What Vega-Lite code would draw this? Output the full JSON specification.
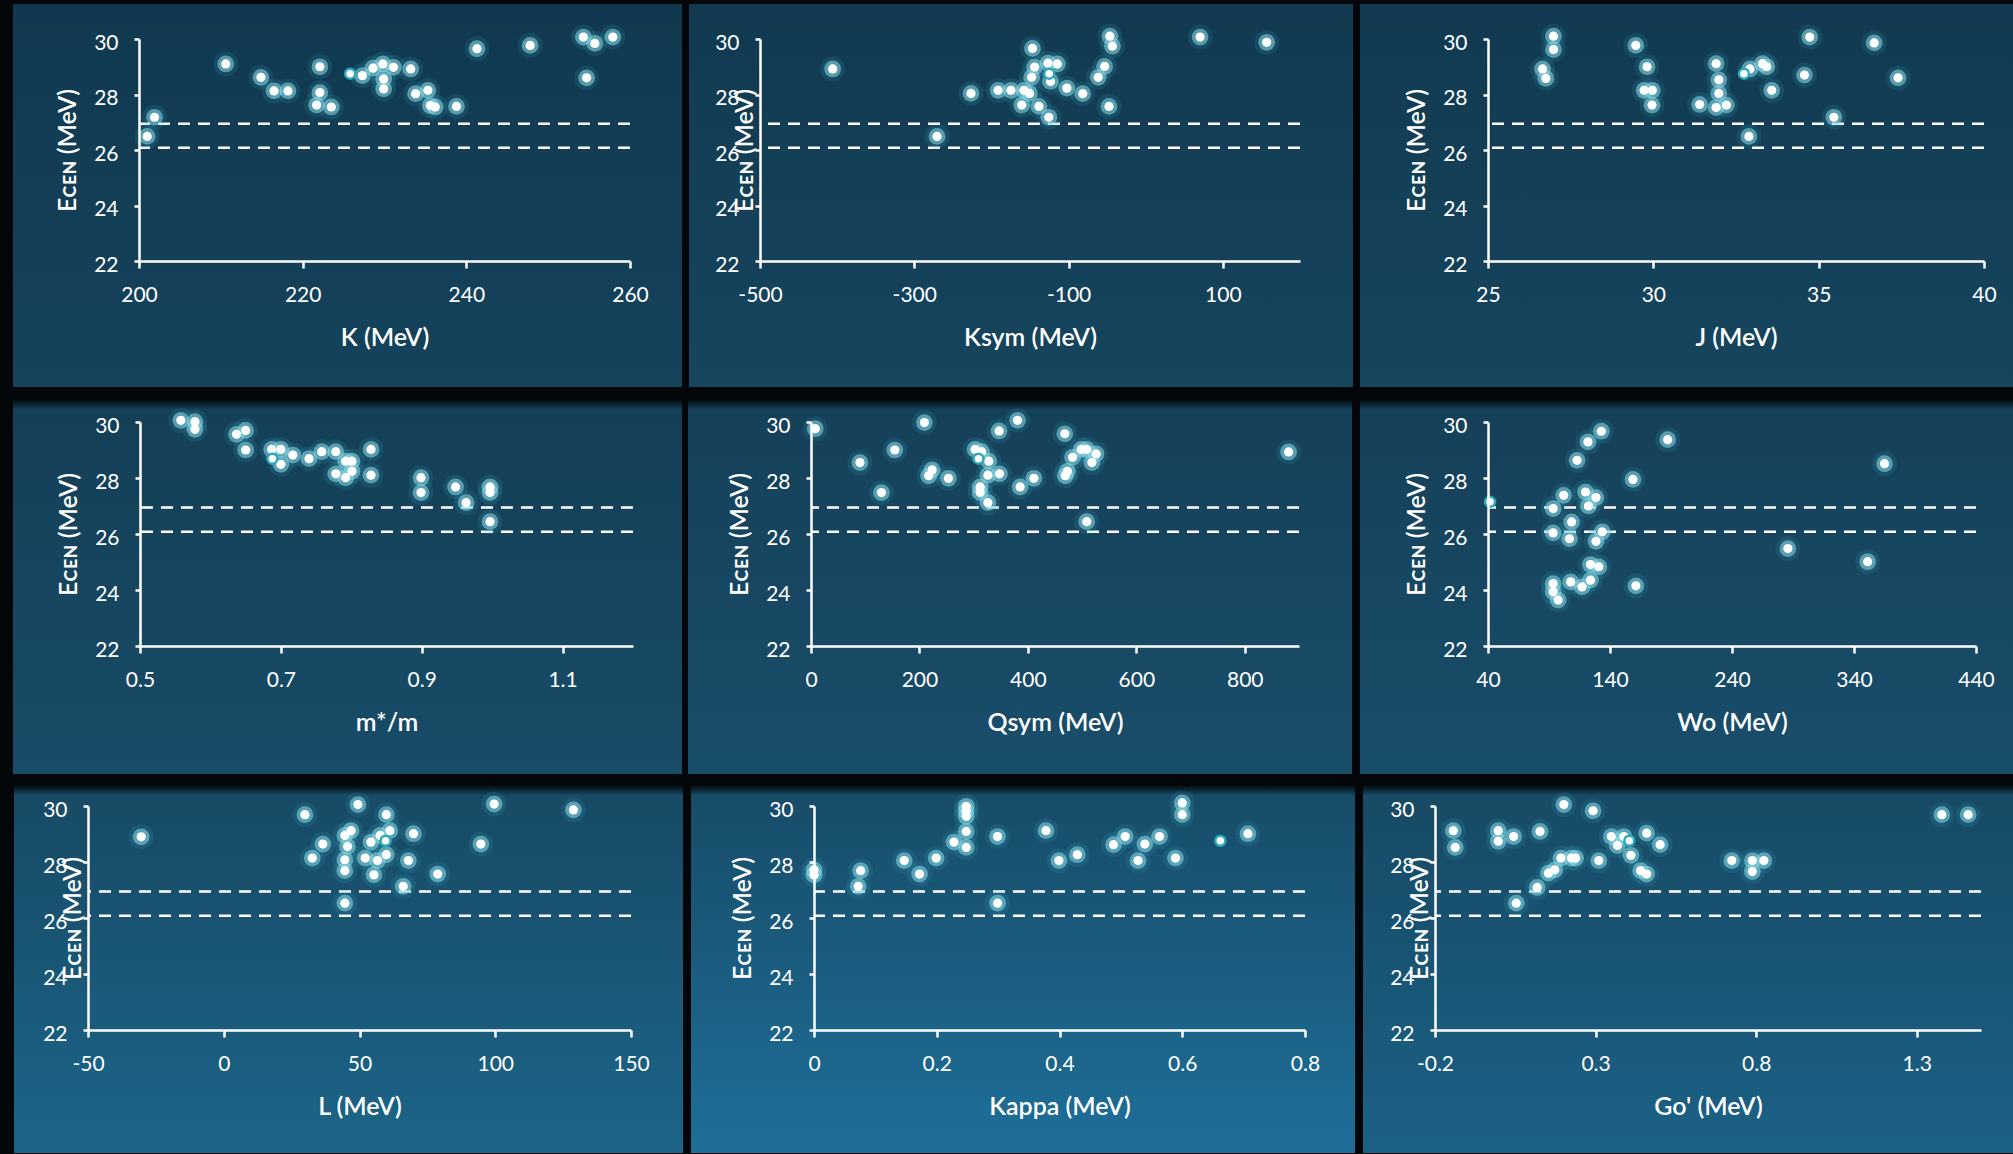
{
"$schema": "https://vega.github.io/schema/vega-lite/v6.json",
"background": "#03070a",
"padding": {"left": 6, "top": 4, "right": 0, "bottom": 0},
"autosize": {"type": "pad"},
"spacing": 11,
"datasets": {
"thresholds": [{"E": 26.95}, {"E": 26.08}],
"K": [{"x":201.0,"E":26.49,"hl":0},{"x":201.9,"E":27.18,"hl":0},{"x":210.6,"E":29.10,"hl":0},{"x":214.9,"E":28.62,"hl":0},{"x":216.5,"E":28.13,"hl":0},{"x":218.2,"E":28.13,"hl":0},{"x":222.1,"E":29.0,"hl":0},{"x":222.1,"E":28.07,"hl":0},{"x":221.7,"E":27.62,"hl":0},{"x":223.5,"E":27.55,"hl":0},{"x":225.8,"E":28.75,"hl":1},{"x":227.3,"E":28.68,"hl":0},{"x":228.6,"E":28.95,"hl":0},{"x":229.8,"E":29.1,"hl":0},{"x":231.1,"E":28.98,"hl":0},{"x":229.9,"E":28.56,"hl":0},{"x":229.9,"E":28.2,"hl":0},{"x":233.2,"E":28.92,"hl":0},{"x":233.8,"E":28.03,"hl":0},{"x":235.3,"E":28.15,"hl":0},{"x":235.6,"E":27.6,"hl":0},{"x":236.2,"E":27.55,"hl":0},{"x":238.8,"E":27.57,"hl":0},{"x":241.3,"E":29.65,"hl":0},{"x":247.8,"E":29.77,"hl":0},{"x":254.3,"E":30.07,"hl":0},{"x":255.7,"E":29.84,"hl":0},{"x":257.9,"E":30.07,"hl":0},{"x":254.7,"E":28.6,"hl":0}],
"Ksym": [{"x":-405.8,"E":28.92,"hl":0},{"x":-270.5,"E":26.49,"hl":0},{"x":-226.5,"E":28.04,"hl":0},{"x":-191.4,"E":28.15,"hl":0},{"x":-174.7,"E":28.15,"hl":0},{"x":-157.9,"E":28.15,"hl":0},{"x":-150.7,"E":28.04,"hl":0},{"x":-160.7,"E":27.62,"hl":0},{"x":-146.8,"E":29.66,"hl":0},{"x":-144.0,"E":28.99,"hl":0},{"x":-147.9,"E":28.62,"hl":0},{"x":-138.4,"E":27.57,"hl":0},{"x":-125.6,"E":27.18,"hl":0},{"x":-126.7,"E":29.13,"hl":0},{"x":-125.1,"E":28.75,"hl":1},{"x":-123.4,"E":28.47,"hl":0},{"x":-114.5,"E":29.10,"hl":0},{"x":-102.2,"E":28.23,"hl":0},{"x":-81.6,"E":28.03,"hl":0},{"x":-61.6,"E":28.62,"hl":0},{"x":-53.2,"E":29.01,"hl":0},{"x":-47.6,"E":27.57,"hl":0},{"x":-46.5,"E":30.10,"hl":0},{"x":-43.2,"E":29.74,"hl":0},{"x":70.5,"E":30.07,"hl":0},{"x":156.8,"E":29.88,"hl":0}],
"J": [{"x":26.65,"E":28.92,"hl":0},{"x":26.75,"E":28.58,"hl":0},{"x":26.98,"E":30.10,"hl":0},{"x":26.98,"E":29.62,"hl":0},{"x":29.47,"E":29.77,"hl":0},{"x":29.81,"E":29.0,"hl":0},{"x":29.72,"E":28.15,"hl":0},{"x":29.97,"E":28.15,"hl":0},{"x":29.96,"E":27.62,"hl":0},{"x":31.40,"E":27.64,"hl":0},{"x":31.90,"E":29.11,"hl":0},{"x":31.98,"E":28.53,"hl":0},{"x":31.98,"E":28.04,"hl":0},{"x":31.90,"E":27.53,"hl":0},{"x":32.21,"E":27.62,"hl":0},{"x":32.74,"E":28.75,"hl":1},{"x":32.92,"E":28.92,"hl":0},{"x":32.89,"E":26.49,"hl":0},{"x":33.30,"E":29.11,"hl":0},{"x":33.43,"E":29.0,"hl":0},{"x":33.58,"E":28.15,"hl":0},{"x":34.57,"E":28.70,"hl":0},{"x":34.73,"E":30.07,"hl":0},{"x":35.46,"E":27.18,"hl":0},{"x":36.68,"E":29.86,"hl":0},{"x":37.40,"E":28.6,"hl":0}],
"M": [{"x":0.558,"E":30.06,"hl":0},{"x":0.578,"E":30.01,"hl":0},{"x":0.578,"E":29.74,"hl":0},{"x":0.637,"E":29.56,"hl":0},{"x":0.650,"E":29.70,"hl":0},{"x":0.650,"E":29.0,"hl":0},{"x":0.687,"E":29.02,"hl":0},{"x":0.700,"E":29.02,"hl":0},{"x":0.688,"E":28.69,"hl":1},{"x":0.700,"E":28.49,"hl":0},{"x":0.717,"E":28.82,"hl":0},{"x":0.740,"E":28.69,"hl":0},{"x":0.758,"E":28.94,"hl":0},{"x":0.778,"E":28.94,"hl":0},{"x":0.778,"E":28.15,"hl":0},{"x":0.792,"E":28.6,"hl":0},{"x":0.792,"E":28.01,"hl":0},{"x":0.801,"E":28.6,"hl":0},{"x":0.801,"E":28.24,"hl":0},{"x":0.828,"E":29.02,"hl":0},{"x":0.828,"E":28.10,"hl":0},{"x":0.899,"E":28.01,"hl":0},{"x":0.899,"E":27.48,"hl":0},{"x":0.948,"E":27.68,"hl":0},{"x":0.963,"E":27.12,"hl":0},{"x":0.997,"E":27.68,"hl":0},{"x":0.997,"E":27.48,"hl":0},{"x":0.997,"E":26.44,"hl":0}],
"Qsym": [{"x":7.9,"E":29.76,"hl":0},{"x":90.3,"E":28.55,"hl":0},{"x":129.9,"E":27.48,"hl":0},{"x":154.5,"E":29.0,"hl":0},{"x":209.1,"E":29.98,"hl":0},{"x":217.0,"E":28.08,"hl":0},{"x":223.4,"E":28.29,"hl":0},{"x":253.5,"E":27.99,"hl":0},{"x":302.6,"E":29.02,"hl":0},{"x":314.5,"E":28.94,"hl":0},{"x":308.9,"E":28.69,"hl":1},{"x":327.9,"E":28.6,"hl":0},{"x":326.3,"E":28.1,"hl":0},{"x":312.1,"E":27.68,"hl":0},{"x":312.1,"E":27.48,"hl":0},{"x":326.3,"E":27.12,"hl":0},{"x":347.7,"E":28.15,"hl":0},{"x":346.9,"E":29.68,"hl":0},{"x":380.9,"E":30.06,"hl":0},{"x":385.7,"E":27.68,"hl":0},{"x":411.1,"E":27.99,"hl":0},{"x":468.1,"E":29.58,"hl":0},{"x":468.9,"E":28.08,"hl":0},{"x":472.9,"E":28.24,"hl":0},{"x":482.4,"E":28.74,"hl":0},{"x":498.2,"E":29.02,"hl":0},{"x":508.5,"E":29.02,"hl":0},{"x":525.9,"E":28.86,"hl":0},{"x":518.0,"E":28.55,"hl":0},{"x":508.5,"E":26.44,"hl":0},{"x":880.8,"E":28.93,"hl":0}],
"Wo": [{"x":41.7,"E":27.15,"hl":1},{"x":93.4,"E":26.91,"hl":0},{"x":93.4,"E":26.04,"hl":0},{"x":93.4,"E":24.23,"hl":0},{"x":93.4,"E":23.94,"hl":0},{"x":97.5,"E":23.64,"hl":0},{"x":102.0,"E":27.38,"hl":0},{"x":106.8,"E":25.83,"hl":0},{"x":108.5,"E":26.43,"hl":0},{"x":107.8,"E":24.29,"hl":0},{"x":113.0,"E":28.63,"hl":0},{"x":117.1,"E":24.11,"hl":0},{"x":119.9,"E":27.50,"hl":0},{"x":121.9,"E":29.29,"hl":0},{"x":122.3,"E":27.00,"hl":0},{"x":124.0,"E":24.35,"hl":0},{"x":124.0,"E":24.91,"hl":0},{"x":128.5,"E":27.30,"hl":0},{"x":128.5,"E":25.74,"hl":0},{"x":130.9,"E":24.83,"hl":0},{"x":132.9,"E":29.67,"hl":0},{"x":133.6,"E":26.08,"hl":0},{"x":158.8,"E":27.95,"hl":0},{"x":161.2,"E":24.15,"hl":0},{"x":187.3,"E":29.37,"hl":0},{"x":285.8,"E":25.48,"hl":0},{"x":351.2,"E":25.01,"hl":0},{"x":365.0,"E":28.51,"hl":0}],
"L": [{"x":-30.4,"E":28.90,"hl":0},{"x":29.9,"E":29.69,"hl":0},{"x":32.6,"E":28.14,"hl":0},{"x":36.5,"E":28.64,"hl":0},{"x":44.6,"E":28.95,"hl":0},{"x":46.9,"E":29.12,"hl":0},{"x":45.6,"E":28.55,"hl":0},{"x":44.6,"E":28.08,"hl":0},{"x":44.6,"E":27.69,"hl":0},{"x":44.6,"E":26.53,"hl":0},{"x":49.4,"E":30.05,"hl":0},{"x":52.1,"E":28.14,"hl":0},{"x":54.2,"E":28.71,"hl":0},{"x":56.6,"E":28.05,"hl":0},{"x":55.3,"E":27.54,"hl":0},{"x":57.6,"E":28.95,"hl":0},{"x":59.6,"E":28.76,"hl":1},{"x":59.9,"E":29.69,"hl":0},{"x":61.2,"E":29.12,"hl":0},{"x":59.9,"E":28.26,"hl":0},{"x":66.1,"E":27.13,"hl":0},{"x":68.0,"E":28.05,"hl":0},{"x":69.9,"E":29.01,"hl":0},{"x":78.8,"E":27.57,"hl":0},{"x":94.7,"E":28.64,"hl":0},{"x":99.6,"E":30.07,"hl":0},{"x":128.8,"E":29.86,"hl":0}],
"Kappa": [{"x":0,"E":27.72,"hl":0},{"x":0,"E":27.54,"hl":0},{"x":0.072,"E":27.13,"hl":0},{"x":0.076,"E":27.69,"hl":0},{"x":0.147,"E":28.05,"hl":0},{"x":0.172,"E":27.57,"hl":0},{"x":0.199,"E":28.14,"hl":0},{"x":0.228,"E":28.71,"hl":0},{"x":0.248,"E":29.99,"hl":0},{"x":0.248,"E":29.83,"hl":0},{"x":0.248,"E":29.63,"hl":0},{"x":0.248,"E":29.09,"hl":0},{"x":0.248,"E":28.52,"hl":0},{"x":0.299,"E":28.91,"hl":0},{"x":0.299,"E":26.53,"hl":0},{"x":0.378,"E":29.12,"hl":0},{"x":0.399,"E":28.05,"hl":0},{"x":0.429,"E":28.26,"hl":0},{"x":0.488,"E":28.62,"hl":0},{"x":0.507,"E":28.91,"hl":0},{"x":0.528,"E":28.05,"hl":0},{"x":0.539,"E":28.64,"hl":0},{"x":0.563,"E":28.91,"hl":0},{"x":0.589,"E":28.14,"hl":0},{"x":0.6,"E":30.11,"hl":0},{"x":0.6,"E":29.69,"hl":0},{"x":0.662,"E":28.76,"hl":1},{"x":0.707,"E":29.01,"hl":0}],
"Go": [{"x":-0.143,"E":29.12,"hl":0},{"x":-0.137,"E":28.52,"hl":0},{"x":-0.003,"E":29.12,"hl":0},{"x":-0.003,"E":28.74,"hl":0},{"x":0.045,"E":28.91,"hl":0},{"x":0.053,"E":26.53,"hl":0},{"x":0.118,"E":27.09,"hl":0},{"x":0.127,"E":29.09,"hl":0},{"x":0.153,"E":27.60,"hl":0},{"x":0.173,"E":27.72,"hl":0},{"x":0.192,"E":28.14,"hl":0},{"x":0.225,"E":28.14,"hl":0},{"x":0.201,"E":30.05,"hl":0},{"x":0.238,"E":28.14,"hl":0},{"x":0.292,"E":29.83,"hl":0},{"x":0.310,"E":28.05,"hl":0},{"x":0.349,"E":28.91,"hl":0},{"x":0.368,"E":28.59,"hl":0},{"x":0.388,"E":28.91,"hl":0},{"x":0.405,"E":28.76,"hl":1},{"x":0.410,"E":28.24,"hl":0},{"x":0.440,"E":27.69,"hl":0},{"x":0.459,"E":29.03,"hl":0},{"x":0.459,"E":27.57,"hl":0},{"x":0.501,"E":28.62,"hl":0},{"x":0.724,"E":28.05,"hl":0},{"x":0.788,"E":28.05,"hl":0},{"x":0.788,"E":27.66,"hl":0},{"x":0.824,"E":28.05,"hl":0},{"x":1.378,"E":29.69,"hl":0},{"x":1.460,"E":29.69,"hl":0}]
},
"vconcat": [
{"spacing": 6, "hconcat": [
{"width": 1, "height": 1, "data": {"values": [{}]}, "mark": {"type": "point", "opacity": 0, "size": 0, "strokeWidth": 0}},
{"width": 491, "height": 222, "layer": [
 {"data": {"values": [{}]}, "mark": {"type": "rect", "fill": {"gradient": "linear", "x1": 0, "y1": 0, "x2": 0, "y2": 1, "stops": [{"offset": 0, "color": "#103950"}, {"offset": 1, "color": "#15435c"}]}}, "encoding": {"x": {"datum": 184.603, "type": "quantitative", "scale": {"domain": [200, 260], "nice": false, "zero": false}, "axis": {"title": "K (MeV)", "values": [200, 220, 240, 260], "labelExpr": "'' + datum.value", "zindex": 1}}, "x2": {"datum": 266.354}, "y": {"datum": 31.261, "type": "quantitative", "scale": {"domain": [22, 30], "nice": false, "zero": false}, "axis": {"title": "Eᴄᴇɴ (MeV)", "values": [22, 24, 26, 28, 30], "zindex": 1}}, "y2": {"datum": 17.459}}},
 {"data": {"name": "thresholds"}, "mark": {"type": "rule", "color": "#ffffff", "strokeWidth": 2.5, "strokeDash": [12, 8]}, "encoding": {"y": {"field": "E", "type": "quantitative", "scale": {"domain": [22, 30], "nice": false, "zero": false}, "axis": {"title": "Eᴄᴇɴ (MeV)", "values": [22, 24, 26, 28, 30], "zindex": 1}}}},
 {"data": {"name": "K"}, "transform": [{"filter": "datum.hl == 0"}], "mark": {"type": "circle", "color": "#3aa3bd", "opacity": 0.16, "size": 620}, "encoding": {"x": {"field": "x", "type": "quantitative", "scale": {"domain": [200, 260], "nice": false, "zero": false}, "axis": {"title": "K (MeV)", "values": [200, 220, 240, 260], "labelExpr": "'' + datum.value", "zindex": 1}}, "y": {"field": "E", "type": "quantitative", "scale": {"domain": [22, 30], "nice": false, "zero": false}, "axis": {"title": "Eᴄᴇɴ (MeV)", "values": [22, 24, 26, 28, 30], "zindex": 1}}}},
 {"data": {"name": "K"}, "transform": [{"filter": "datum.hl == 0"}], "mark": {"type": "circle", "color": "#8ddfea", "opacity": 0.55, "size": 280}, "encoding": {"x": {"field": "x", "type": "quantitative", "scale": {"domain": [200, 260], "nice": false, "zero": false}, "axis": {"title": "K (MeV)", "values": [200, 220, 240, 260], "labelExpr": "'' + datum.value", "zindex": 1}}, "y": {"field": "E", "type": "quantitative", "scale": {"domain": [22, 30], "nice": false, "zero": false}, "axis": {"title": "Eᴄᴇɴ (MeV)", "values": [22, 24, 26, 28, 30], "zindex": 1}}}},
 {"data": {"name": "K"}, "transform": [{"filter": "datum.hl == 0"}], "mark": {"type": "circle", "color": "#ffffff", "opacity": 1, "size": 85}, "encoding": {"x": {"field": "x", "type": "quantitative", "scale": {"domain": [200, 260], "nice": false, "zero": false}, "axis": {"title": "K (MeV)", "values": [200, 220, 240, 260], "labelExpr": "'' + datum.value", "zindex": 1}}, "y": {"field": "E", "type": "quantitative", "scale": {"domain": [22, 30], "nice": false, "zero": false}, "axis": {"title": "Eᴄᴇɴ (MeV)", "values": [22, 24, 26, 28, 30], "zindex": 1}}}},
 {"data": {"name": "K"}, "transform": [{"filter": "datum.hl == 1"}], "mark": {"type": "circle", "fill": "#ffffff", "opacity": 1, "size": 100, "stroke": "#2aa9bb", "strokeWidth": 2.5}, "encoding": {"x": {"field": "x", "type": "quantitative", "scale": {"domain": [200, 260], "nice": false, "zero": false}, "axis": {"title": "K (MeV)", "values": [200, 220, 240, 260], "labelExpr": "'' + datum.value", "zindex": 1}}, "y": {"field": "E", "type": "quantitative", "scale": {"domain": [22, 30], "nice": false, "zero": false}, "axis": {"title": "Eᴄᴇɴ (MeV)", "values": [22, 24, 26, 28, 30], "zindex": 1}}}}
]},
{"width": 540, "height": 222, "layer": [
 {"data": {"values": [{}]}, "mark": {"type": "rect", "fill": {"gradient": "linear", "x1": 0, "y1": 0, "x2": 0, "y2": 1, "stops": [{"offset": 0, "color": "#113a51"}, {"offset": 1, "color": "#16455e"}]}}, "encoding": {"x": {"datum": -592.04, "type": "quantitative", "scale": {"domain": [-500, 200], "nice": false, "zero": false}, "axis": {"title": "Ksym (MeV)", "values": [-500, -300, -100, 100], "labelExpr": "'' + datum.value", "zindex": 1}}, "x2": {"datum": 268.70}, "y": {"datum": 31.261, "type": "quantitative", "scale": {"domain": [22, 30], "nice": false, "zero": false}, "axis": {"title": "Eᴄᴇɴ (MeV)", "values": [22, 24, 26, 28, 30], "minExtent": 0, "maxExtent": 0, "titlePadding": 3, "zindex": 1}}, "y2": {"datum": 17.459}}},
 {"data": {"name": "thresholds"}, "mark": {"type": "rule", "color": "#ffffff", "strokeWidth": 2.5, "strokeDash": [12, 8]}, "encoding": {"y": {"field": "E", "type": "quantitative", "scale": {"domain": [22, 30], "nice": false, "zero": false}, "axis": {"title": "Eᴄᴇɴ (MeV)", "values": [22, 24, 26, 28, 30], "minExtent": 0, "maxExtent": 0, "titlePadding": 3, "zindex": 1}}}},
 {"data": {"name": "Ksym"}, "transform": [{"filter": "datum.hl == 0"}], "mark": {"type": "circle", "color": "#3aa3bd", "opacity": 0.16, "size": 620}, "encoding": {"x": {"field": "x", "type": "quantitative", "scale": {"domain": [-500, 200], "nice": false, "zero": false}, "axis": {"title": "Ksym (MeV)", "values": [-500, -300, -100, 100], "labelExpr": "'' + datum.value", "zindex": 1}}, "y": {"field": "E", "type": "quantitative", "scale": {"domain": [22, 30], "nice": false, "zero": false}, "axis": {"title": "Eᴄᴇɴ (MeV)", "values": [22, 24, 26, 28, 30], "minExtent": 0, "maxExtent": 0, "titlePadding": 3, "zindex": 1}}}},
 {"data": {"name": "Ksym"}, "transform": [{"filter": "datum.hl == 0"}], "mark": {"type": "circle", "color": "#8ddfea", "opacity": 0.55, "size": 280}, "encoding": {"x": {"field": "x", "type": "quantitative", "scale": {"domain": [-500, 200], "nice": false, "zero": false}, "axis": {"title": "Ksym (MeV)", "values": [-500, -300, -100, 100], "labelExpr": "'' + datum.value", "zindex": 1}}, "y": {"field": "E", "type": "quantitative", "scale": {"domain": [22, 30], "nice": false, "zero": false}, "axis": {"title": "Eᴄᴇɴ (MeV)", "values": [22, 24, 26, 28, 30], "minExtent": 0, "maxExtent": 0, "titlePadding": 3, "zindex": 1}}}},
 {"data": {"name": "Ksym"}, "transform": [{"filter": "datum.hl == 0"}], "mark": {"type": "circle", "color": "#ffffff", "opacity": 1, "size": 85}, "encoding": {"x": {"field": "x", "type": "quantitative", "scale": {"domain": [-500, 200], "nice": false, "zero": false}, "axis": {"title": "Ksym (MeV)", "values": [-500, -300, -100, 100], "labelExpr": "'' + datum.value", "zindex": 1}}, "y": {"field": "E", "type": "quantitative", "scale": {"domain": [22, 30], "nice": false, "zero": false}, "axis": {"title": "Eᴄᴇɴ (MeV)", "values": [22, 24, 26, 28, 30], "minExtent": 0, "maxExtent": 0, "titlePadding": 3, "zindex": 1}}}},
 {"data": {"name": "Ksym"}, "transform": [{"filter": "datum.hl == 1"}], "mark": {"type": "circle", "fill": "#ffffff", "opacity": 1, "size": 100, "stroke": "#2aa9bb", "strokeWidth": 2.5}, "encoding": {"x": {"field": "x", "type": "quantitative", "scale": {"domain": [-500, 200], "nice": false, "zero": false}, "axis": {"title": "Ksym (MeV)", "values": [-500, -300, -100, 100], "labelExpr": "'' + datum.value", "zindex": 1}}, "y": {"field": "E", "type": "quantitative", "scale": {"domain": [22, 30], "nice": false, "zero": false}, "axis": {"title": "Eᴄᴇɴ (MeV)", "values": [22, 24, 26, 28, 30], "minExtent": 0, "maxExtent": 0, "titlePadding": 3, "zindex": 1}}}}
]},
{"width": 496, "height": 222, "layer": [
 {"data": {"values": [{}]}, "mark": {"type": "rect", "fill": {"gradient": "linear", "x1": 0, "y1": 0, "x2": 0, "y2": 1, "stops": [{"offset": 0, "color": "#113a51"}, {"offset": 1, "color": "#16455e"}]}}, "encoding": {"x": {"datum": 21.129, "type": "quantitative", "scale": {"domain": [25, 40], "nice": false, "zero": false}, "axis": {"title": "J (MeV)", "values": [25, 30, 35, 40], "labelExpr": "'' + datum.value", "zindex": 1}}, "x2": {"datum": 40.877}, "y": {"datum": 31.261, "type": "quantitative", "scale": {"domain": [22, 30], "nice": false, "zero": false}, "axis": {"title": "Eᴄᴇɴ (MeV)", "values": [22, 24, 26, 28, 30], "zindex": 1}}, "y2": {"datum": 17.459}}},
 {"data": {"name": "thresholds"}, "mark": {"type": "rule", "color": "#ffffff", "strokeWidth": 2.5, "strokeDash": [12, 8]}, "encoding": {"y": {"field": "E", "type": "quantitative", "scale": {"domain": [22, 30], "nice": false, "zero": false}, "axis": {"title": "Eᴄᴇɴ (MeV)", "values": [22, 24, 26, 28, 30], "zindex": 1}}}},
 {"data": {"name": "J"}, "transform": [{"filter": "datum.hl == 0"}], "mark": {"type": "circle", "color": "#3aa3bd", "opacity": 0.16, "size": 620}, "encoding": {"x": {"field": "x", "type": "quantitative", "scale": {"domain": [25, 40], "nice": false, "zero": false}, "axis": {"title": "J (MeV)", "values": [25, 30, 35, 40], "labelExpr": "'' + datum.value", "zindex": 1}}, "y": {"field": "E", "type": "quantitative", "scale": {"domain": [22, 30], "nice": false, "zero": false}, "axis": {"title": "Eᴄᴇɴ (MeV)", "values": [22, 24, 26, 28, 30], "zindex": 1}}}},
 {"data": {"name": "J"}, "transform": [{"filter": "datum.hl == 0"}], "mark": {"type": "circle", "color": "#8ddfea", "opacity": 0.55, "size": 280}, "encoding": {"x": {"field": "x", "type": "quantitative", "scale": {"domain": [25, 40], "nice": false, "zero": false}, "axis": {"title": "J (MeV)", "values": [25, 30, 35, 40], "labelExpr": "'' + datum.value", "zindex": 1}}, "y": {"field": "E", "type": "quantitative", "scale": {"domain": [22, 30], "nice": false, "zero": false}, "axis": {"title": "Eᴄᴇɴ (MeV)", "values": [22, 24, 26, 28, 30], "zindex": 1}}}},
 {"data": {"name": "J"}, "transform": [{"filter": "datum.hl == 0"}], "mark": {"type": "circle", "color": "#ffffff", "opacity": 1, "size": 85}, "encoding": {"x": {"field": "x", "type": "quantitative", "scale": {"domain": [25, 40], "nice": false, "zero": false}, "axis": {"title": "J (MeV)", "values": [25, 30, 35, 40], "labelExpr": "'' + datum.value", "zindex": 1}}, "y": {"field": "E", "type": "quantitative", "scale": {"domain": [22, 30], "nice": false, "zero": false}, "axis": {"title": "Eᴄᴇɴ (MeV)", "values": [22, 24, 26, 28, 30], "zindex": 1}}}},
 {"data": {"name": "J"}, "transform": [{"filter": "datum.hl == 1"}], "mark": {"type": "circle", "fill": "#ffffff", "opacity": 1, "size": 100, "stroke": "#2aa9bb", "strokeWidth": 2.5}, "encoding": {"x": {"field": "x", "type": "quantitative", "scale": {"domain": [25, 40], "nice": false, "zero": false}, "axis": {"title": "J (MeV)", "values": [25, 30, 35, 40], "labelExpr": "'' + datum.value", "zindex": 1}}, "y": {"field": "E", "type": "quantitative", "scale": {"domain": [22, 30], "nice": false, "zero": false}, "axis": {"title": "Eᴄᴇɴ (MeV)", "values": [22, 24, 26, 28, 30], "zindex": 1}}}}
]}
]},
{"spacing": 6, "hconcat": [
{"width": 1, "height": 1, "data": {"values": [{}]}, "mark": {"type": "point", "opacity": 0, "size": 0, "strokeWidth": 0}},
{"width": 493, "height": 224, "layer": [
 {"data": {"values": [{}]}, "mark": {"type": "rect", "fill": {"gradient": "linear", "x1": 0, "y1": 0, "x2": 0, "y2": 1, "stops": [{"offset": 0, "color": "#02070a"}, {"offset": 0.028, "color": "#143f57"}, {"offset": 1, "color": "#184c68"}]}}, "encoding": {"x": {"datum": 0.31968, "type": "quantitative", "scale": {"domain": [0.5, 1.2], "nice": false, "zero": false}, "axis": {"title": "m*/m", "values": [0.5, 0.7, 0.9, 1.1], "labelExpr": "'' + datum.value", "zindex": 1}}, "x2": {"datum": 1.26957}, "y": {"datum": 30.8214, "type": "quantitative", "scale": {"domain": [22, 30], "nice": false, "zero": false}, "axis": {"title": "Eᴄᴇɴ (MeV)", "values": [22, 24, 26, 28, 30], "zindex": 1}}, "y2": {"datum": 17.4286}}},
 {"data": {"name": "thresholds"}, "mark": {"type": "rule", "color": "#ffffff", "strokeWidth": 2.5, "strokeDash": [12, 8]}, "encoding": {"y": {"field": "E", "type": "quantitative", "scale": {"domain": [22, 30], "nice": false, "zero": false}, "axis": {"title": "Eᴄᴇɴ (MeV)", "values": [22, 24, 26, 28, 30], "zindex": 1}}}},
 {"data": {"name": "M"}, "transform": [{"filter": "datum.hl == 0"}], "mark": {"type": "circle", "color": "#3aa3bd", "opacity": 0.16, "size": 620}, "encoding": {"x": {"field": "x", "type": "quantitative", "scale": {"domain": [0.5, 1.2], "nice": false, "zero": false}, "axis": {"title": "m*/m", "values": [0.5, 0.7, 0.9, 1.1], "labelExpr": "'' + datum.value", "zindex": 1}}, "y": {"field": "E", "type": "quantitative", "scale": {"domain": [22, 30], "nice": false, "zero": false}, "axis": {"title": "Eᴄᴇɴ (MeV)", "values": [22, 24, 26, 28, 30], "zindex": 1}}}},
 {"data": {"name": "M"}, "transform": [{"filter": "datum.hl == 0"}], "mark": {"type": "circle", "color": "#8ddfea", "opacity": 0.55, "size": 280}, "encoding": {"x": {"field": "x", "type": "quantitative", "scale": {"domain": [0.5, 1.2], "nice": false, "zero": false}, "axis": {"title": "m*/m", "values": [0.5, 0.7, 0.9, 1.1], "labelExpr": "'' + datum.value", "zindex": 1}}, "y": {"field": "E", "type": "quantitative", "scale": {"domain": [22, 30], "nice": false, "zero": false}, "axis": {"title": "Eᴄᴇɴ (MeV)", "values": [22, 24, 26, 28, 30], "zindex": 1}}}},
 {"data": {"name": "M"}, "transform": [{"filter": "datum.hl == 0"}], "mark": {"type": "circle", "color": "#ffffff", "opacity": 1, "size": 85}, "encoding": {"x": {"field": "x", "type": "quantitative", "scale": {"domain": [0.5, 1.2], "nice": false, "zero": false}, "axis": {"title": "m*/m", "values": [0.5, 0.7, 0.9, 1.1], "labelExpr": "'' + datum.value", "zindex": 1}}, "y": {"field": "E", "type": "quantitative", "scale": {"domain": [22, 30], "nice": false, "zero": false}, "axis": {"title": "Eᴄᴇɴ (MeV)", "values": [22, 24, 26, 28, 30], "zindex": 1}}}},
 {"data": {"name": "M"}, "transform": [{"filter": "datum.hl == 1"}], "mark": {"type": "circle", "fill": "#ffffff", "opacity": 1, "size": 100, "stroke": "#2aa9bb", "strokeWidth": 2.5}, "encoding": {"x": {"field": "x", "type": "quantitative", "scale": {"domain": [0.5, 1.2], "nice": false, "zero": false}, "axis": {"title": "m*/m", "values": [0.5, 0.7, 0.9, 1.1], "labelExpr": "'' + datum.value", "zindex": 1}}, "y": {"field": "E", "type": "quantitative", "scale": {"domain": [22, 30], "nice": false, "zero": false}, "axis": {"title": "Eᴄᴇɴ (MeV)", "values": [22, 24, 26, 28, 30], "zindex": 1}}}}
]},
{"width": 488, "height": 224, "layer": [
 {"data": {"values": [{}]}, "mark": {"type": "rect", "fill": {"gradient": "linear", "x1": 0, "y1": 0, "x2": 0, "y2": 1, "stops": [{"offset": 0, "color": "#02070a"}, {"offset": 0.028, "color": "#154059"}, {"offset": 1, "color": "#194e6b"}]}}, "encoding": {"x": {"datum": -226.84, "type": "quantitative", "scale": {"domain": [0, 900], "nice": false, "zero": false}, "axis": {"title": "Qsym (MeV)", "values": [0, 200, 400, 600, 800], "labelExpr": "'' + datum.value", "zindex": 1}}, "x2": {"datum": 997.75}, "y": {"datum": 30.8214, "type": "quantitative", "scale": {"domain": [22, 30], "nice": false, "zero": false}, "axis": {"title": "Eᴄᴇɴ (MeV)", "values": [22, 24, 26, 28, 30], "zindex": 1}}, "y2": {"datum": 17.4286}}},
 {"data": {"name": "thresholds"}, "mark": {"type": "rule", "color": "#ffffff", "strokeWidth": 2.5, "strokeDash": [12, 8]}, "encoding": {"y": {"field": "E", "type": "quantitative", "scale": {"domain": [22, 30], "nice": false, "zero": false}, "axis": {"title": "Eᴄᴇɴ (MeV)", "values": [22, 24, 26, 28, 30], "zindex": 1}}}},
 {"data": {"name": "Qsym"}, "transform": [{"filter": "datum.hl == 0"}], "mark": {"type": "circle", "color": "#3aa3bd", "opacity": 0.16, "size": 620}, "encoding": {"x": {"field": "x", "type": "quantitative", "scale": {"domain": [0, 900], "nice": false, "zero": false}, "axis": {"title": "Qsym (MeV)", "values": [0, 200, 400, 600, 800], "labelExpr": "'' + datum.value", "zindex": 1}}, "y": {"field": "E", "type": "quantitative", "scale": {"domain": [22, 30], "nice": false, "zero": false}, "axis": {"title": "Eᴄᴇɴ (MeV)", "values": [22, 24, 26, 28, 30], "zindex": 1}}}},
 {"data": {"name": "Qsym"}, "transform": [{"filter": "datum.hl == 0"}], "mark": {"type": "circle", "color": "#8ddfea", "opacity": 0.55, "size": 280}, "encoding": {"x": {"field": "x", "type": "quantitative", "scale": {"domain": [0, 900], "nice": false, "zero": false}, "axis": {"title": "Qsym (MeV)", "values": [0, 200, 400, 600, 800], "labelExpr": "'' + datum.value", "zindex": 1}}, "y": {"field": "E", "type": "quantitative", "scale": {"domain": [22, 30], "nice": false, "zero": false}, "axis": {"title": "Eᴄᴇɴ (MeV)", "values": [22, 24, 26, 28, 30], "zindex": 1}}}},
 {"data": {"name": "Qsym"}, "transform": [{"filter": "datum.hl == 0"}], "mark": {"type": "circle", "color": "#ffffff", "opacity": 1, "size": 85}, "encoding": {"x": {"field": "x", "type": "quantitative", "scale": {"domain": [0, 900], "nice": false, "zero": false}, "axis": {"title": "Qsym (MeV)", "values": [0, 200, 400, 600, 800], "labelExpr": "'' + datum.value", "zindex": 1}}, "y": {"field": "E", "type": "quantitative", "scale": {"domain": [22, 30], "nice": false, "zero": false}, "axis": {"title": "Eᴄᴇɴ (MeV)", "values": [22, 24, 26, 28, 30], "zindex": 1}}}},
 {"data": {"name": "Qsym"}, "transform": [{"filter": "datum.hl == 1"}], "mark": {"type": "circle", "fill": "#ffffff", "opacity": 1, "size": 100, "stroke": "#2aa9bb", "strokeWidth": 2.5}, "encoding": {"x": {"field": "x", "type": "quantitative", "scale": {"domain": [0, 900], "nice": false, "zero": false}, "axis": {"title": "Qsym (MeV)", "values": [0, 200, 400, 600, 800], "labelExpr": "'' + datum.value", "zindex": 1}}, "y": {"field": "E", "type": "quantitative", "scale": {"domain": [22, 30], "nice": false, "zero": false}, "axis": {"title": "Eᴄᴇɴ (MeV)", "values": [22, 24, 26, 28, 30], "zindex": 1}}}}
]},
{"width": 488, "height": 224, "layer": [
 {"data": {"values": [{}]}, "mark": {"type": "rect", "fill": {"gradient": "linear", "x1": 0, "y1": 0, "x2": 0, "y2": 1, "stops": [{"offset": 0, "color": "#02070a"}, {"offset": 0.028, "color": "#154059"}, {"offset": 1, "color": "#194e6b"}]}}, "encoding": {"x": {"datum": -64.92, "type": "quantitative", "scale": {"domain": [40, 440], "nice": false, "zero": false}, "axis": {"title": "Wo (MeV)", "values": [40, 140, 240, 340, 440], "labelExpr": "'' + datum.value", "zindex": 1}}, "x2": {"datum": 470.33}, "y": {"datum": 30.8214, "type": "quantitative", "scale": {"domain": [22, 30], "nice": false, "zero": false}, "axis": {"title": "Eᴄᴇɴ (MeV)", "values": [22, 24, 26, 28, 30], "zindex": 1}}, "y2": {"datum": 17.4286}}},
 {"data": {"name": "thresholds"}, "mark": {"type": "rule", "color": "#ffffff", "strokeWidth": 2.5, "strokeDash": [12, 8]}, "encoding": {"y": {"field": "E", "type": "quantitative", "scale": {"domain": [22, 30], "nice": false, "zero": false}, "axis": {"title": "Eᴄᴇɴ (MeV)", "values": [22, 24, 26, 28, 30], "zindex": 1}}}},
 {"data": {"name": "Wo"}, "transform": [{"filter": "datum.hl == 0"}], "mark": {"type": "circle", "color": "#3aa3bd", "opacity": 0.16, "size": 620}, "encoding": {"x": {"field": "x", "type": "quantitative", "scale": {"domain": [40, 440], "nice": false, "zero": false}, "axis": {"title": "Wo (MeV)", "values": [40, 140, 240, 340, 440], "labelExpr": "'' + datum.value", "zindex": 1}}, "y": {"field": "E", "type": "quantitative", "scale": {"domain": [22, 30], "nice": false, "zero": false}, "axis": {"title": "Eᴄᴇɴ (MeV)", "values": [22, 24, 26, 28, 30], "zindex": 1}}}},
 {"data": {"name": "Wo"}, "transform": [{"filter": "datum.hl == 0"}], "mark": {"type": "circle", "color": "#8ddfea", "opacity": 0.55, "size": 280}, "encoding": {"x": {"field": "x", "type": "quantitative", "scale": {"domain": [40, 440], "nice": false, "zero": false}, "axis": {"title": "Wo (MeV)", "values": [40, 140, 240, 340, 440], "labelExpr": "'' + datum.value", "zindex": 1}}, "y": {"field": "E", "type": "quantitative", "scale": {"domain": [22, 30], "nice": false, "zero": false}, "axis": {"title": "Eᴄᴇɴ (MeV)", "values": [22, 24, 26, 28, 30], "zindex": 1}}}},
 {"data": {"name": "Wo"}, "transform": [{"filter": "datum.hl == 0"}], "mark": {"type": "circle", "color": "#ffffff", "opacity": 1, "size": 85}, "encoding": {"x": {"field": "x", "type": "quantitative", "scale": {"domain": [40, 440], "nice": false, "zero": false}, "axis": {"title": "Wo (MeV)", "values": [40, 140, 240, 340, 440], "labelExpr": "'' + datum.value", "zindex": 1}}, "y": {"field": "E", "type": "quantitative", "scale": {"domain": [22, 30], "nice": false, "zero": false}, "axis": {"title": "Eᴄᴇɴ (MeV)", "values": [22, 24, 26, 28, 30], "zindex": 1}}}},
 {"data": {"name": "Wo"}, "transform": [{"filter": "datum.hl == 1"}], "mark": {"type": "circle", "fill": "#ffffff", "opacity": 1, "size": 100, "stroke": "#2aa9bb", "strokeWidth": 2.5}, "encoding": {"x": {"field": "x", "type": "quantitative", "scale": {"domain": [40, 440], "nice": false, "zero": false}, "axis": {"title": "Wo (MeV)", "values": [40, 140, 240, 340, 440], "labelExpr": "'' + datum.value", "zindex": 1}}, "y": {"field": "E", "type": "quantitative", "scale": {"domain": [22, 30], "nice": false, "zero": false}, "axis": {"title": "Eᴄᴇɴ (MeV)", "values": [22, 24, 26, 28, 30], "zindex": 1}}}}
]}
]},
{"spacing": 6, "hconcat": [
{"width": 1, "height": 1, "data": {"values": [{}]}, "mark": {"type": "point", "opacity": 0, "size": 0, "strokeWidth": 0}},
{"width": 543, "height": 224, "layer": [
 {"data": {"values": [{}]}, "mark": {"type": "rect", "fill": {"gradient": "linear", "x1": 0, "y1": 0, "x2": 0, "y2": 1, "stops": [{"offset": 0, "color": "#02070a"}, {"offset": 0.028, "color": "#174a65"}, {"offset": 1, "color": "#1c6589"}]}}, "encoding": {"x": {"datum": -77.256, "type": "quantitative", "scale": {"domain": [-50, 150], "nice": false, "zero": false}, "axis": {"title": "L (MeV)", "values": [-50, 0, 50, 100, 150], "labelExpr": "'' + datum.value", "zindex": 1}}, "x2": {"datum": 169.153}, "y": {"datum": 30.75, "type": "quantitative", "scale": {"domain": [22, 30], "nice": false, "zero": false}, "axis": {"title": "Eᴄᴇɴ (MeV)", "values": [22, 24, 26, 28, 30], "minExtent": 0, "maxExtent": 0, "titlePadding": 3, "zindex": 1}}, "y2": {"datum": 17.607}}},
 {"data": {"name": "thresholds"}, "mark": {"type": "rule", "color": "#ffffff", "strokeWidth": 2.5, "strokeDash": [12, 8]}, "encoding": {"y": {"field": "E", "type": "quantitative", "scale": {"domain": [22, 30], "nice": false, "zero": false}, "axis": {"title": "Eᴄᴇɴ (MeV)", "values": [22, 24, 26, 28, 30], "minExtent": 0, "maxExtent": 0, "titlePadding": 3, "zindex": 1}}}},
 {"data": {"name": "L"}, "transform": [{"filter": "datum.hl == 0"}], "mark": {"type": "circle", "color": "#3aa3bd", "opacity": 0.16, "size": 620}, "encoding": {"x": {"field": "x", "type": "quantitative", "scale": {"domain": [-50, 150], "nice": false, "zero": false}, "axis": {"title": "L (MeV)", "values": [-50, 0, 50, 100, 150], "labelExpr": "'' + datum.value", "zindex": 1}}, "y": {"field": "E", "type": "quantitative", "scale": {"domain": [22, 30], "nice": false, "zero": false}, "axis": {"title": "Eᴄᴇɴ (MeV)", "values": [22, 24, 26, 28, 30], "minExtent": 0, "maxExtent": 0, "titlePadding": 3, "zindex": 1}}}},
 {"data": {"name": "L"}, "transform": [{"filter": "datum.hl == 0"}], "mark": {"type": "circle", "color": "#8ddfea", "opacity": 0.55, "size": 280}, "encoding": {"x": {"field": "x", "type": "quantitative", "scale": {"domain": [-50, 150], "nice": false, "zero": false}, "axis": {"title": "L (MeV)", "values": [-50, 0, 50, 100, 150], "labelExpr": "'' + datum.value", "zindex": 1}}, "y": {"field": "E", "type": "quantitative", "scale": {"domain": [22, 30], "nice": false, "zero": false}, "axis": {"title": "Eᴄᴇɴ (MeV)", "values": [22, 24, 26, 28, 30], "minExtent": 0, "maxExtent": 0, "titlePadding": 3, "zindex": 1}}}},
 {"data": {"name": "L"}, "transform": [{"filter": "datum.hl == 0"}], "mark": {"type": "circle", "color": "#ffffff", "opacity": 1, "size": 85}, "encoding": {"x": {"field": "x", "type": "quantitative", "scale": {"domain": [-50, 150], "nice": false, "zero": false}, "axis": {"title": "L (MeV)", "values": [-50, 0, 50, 100, 150], "labelExpr": "'' + datum.value", "zindex": 1}}, "y": {"field": "E", "type": "quantitative", "scale": {"domain": [22, 30], "nice": false, "zero": false}, "axis": {"title": "Eᴄᴇɴ (MeV)", "values": [22, 24, 26, 28, 30], "minExtent": 0, "maxExtent": 0, "titlePadding": 3, "zindex": 1}}}},
 {"data": {"name": "L"}, "transform": [{"filter": "datum.hl == 1"}], "mark": {"type": "circle", "fill": "#ffffff", "opacity": 1, "size": 100, "stroke": "#2aa9bb", "strokeWidth": 2.5}, "encoding": {"x": {"field": "x", "type": "quantitative", "scale": {"domain": [-50, 150], "nice": false, "zero": false}, "axis": {"title": "L (MeV)", "values": [-50, 0, 50, 100, 150], "labelExpr": "'' + datum.value", "zindex": 1}}, "y": {"field": "E", "type": "quantitative", "scale": {"domain": [22, 30], "nice": false, "zero": false}, "axis": {"title": "Eᴄᴇɴ (MeV)", "values": [22, 24, 26, 28, 30], "minExtent": 0, "maxExtent": 0, "titlePadding": 3, "zindex": 1}}}}
]},
{"width": 491, "height": 224, "layer": [
 {"data": {"values": [{}]}, "mark": {"type": "rect", "fill": {"gradient": "linear", "x1": 0, "y1": 0, "x2": 0, "y2": 1, "stops": [{"offset": 0, "color": "#02070a"}, {"offset": 0.028, "color": "#174c68"}, {"offset": 1, "color": "#1e6f99"}]}}, "encoding": {"x": {"datum": -0.20041, "type": "quantitative", "scale": {"domain": [0, 0.8], "nice": false, "zero": false}, "axis": {"title": "Kappa (MeV)", "values": [0, 0.2, 0.4, 0.6, 0.8], "labelExpr": "'' + datum.value", "zindex": 1}}, "x2": {"datum": 0.88147}, "y": {"datum": 30.75, "type": "quantitative", "scale": {"domain": [22, 30], "nice": false, "zero": false}, "axis": {"title": "Eᴄᴇɴ (MeV)", "values": [22, 24, 26, 28, 30], "zindex": 1}}, "y2": {"datum": 17.607}}},
 {"data": {"name": "thresholds"}, "mark": {"type": "rule", "color": "#ffffff", "strokeWidth": 2.5, "strokeDash": [12, 8]}, "encoding": {"y": {"field": "E", "type": "quantitative", "scale": {"domain": [22, 30], "nice": false, "zero": false}, "axis": {"title": "Eᴄᴇɴ (MeV)", "values": [22, 24, 26, 28, 30], "zindex": 1}}}},
 {"data": {"name": "Kappa"}, "transform": [{"filter": "datum.hl == 0"}], "mark": {"type": "circle", "color": "#3aa3bd", "opacity": 0.16, "size": 620}, "encoding": {"x": {"field": "x", "type": "quantitative", "scale": {"domain": [0, 0.8], "nice": false, "zero": false}, "axis": {"title": "Kappa (MeV)", "values": [0, 0.2, 0.4, 0.6, 0.8], "labelExpr": "'' + datum.value", "zindex": 1}}, "y": {"field": "E", "type": "quantitative", "scale": {"domain": [22, 30], "nice": false, "zero": false}, "axis": {"title": "Eᴄᴇɴ (MeV)", "values": [22, 24, 26, 28, 30], "zindex": 1}}}},
 {"data": {"name": "Kappa"}, "transform": [{"filter": "datum.hl == 0"}], "mark": {"type": "circle", "color": "#8ddfea", "opacity": 0.55, "size": 280}, "encoding": {"x": {"field": "x", "type": "quantitative", "scale": {"domain": [0, 0.8], "nice": false, "zero": false}, "axis": {"title": "Kappa (MeV)", "values": [0, 0.2, 0.4, 0.6, 0.8], "labelExpr": "'' + datum.value", "zindex": 1}}, "y": {"field": "E", "type": "quantitative", "scale": {"domain": [22, 30], "nice": false, "zero": false}, "axis": {"title": "Eᴄᴇɴ (MeV)", "values": [22, 24, 26, 28, 30], "zindex": 1}}}},
 {"data": {"name": "Kappa"}, "transform": [{"filter": "datum.hl == 0"}], "mark": {"type": "circle", "color": "#ffffff", "opacity": 1, "size": 85}, "encoding": {"x": {"field": "x", "type": "quantitative", "scale": {"domain": [0, 0.8], "nice": false, "zero": false}, "axis": {"title": "Kappa (MeV)", "values": [0, 0.2, 0.4, 0.6, 0.8], "labelExpr": "'' + datum.value", "zindex": 1}}, "y": {"field": "E", "type": "quantitative", "scale": {"domain": [22, 30], "nice": false, "zero": false}, "axis": {"title": "Eᴄᴇɴ (MeV)", "values": [22, 24, 26, 28, 30], "zindex": 1}}}},
 {"data": {"name": "Kappa"}, "transform": [{"filter": "datum.hl == 1"}], "mark": {"type": "circle", "fill": "#ffffff", "opacity": 1, "size": 100, "stroke": "#2aa9bb", "strokeWidth": 2.5}, "encoding": {"x": {"field": "x", "type": "quantitative", "scale": {"domain": [0, 0.8], "nice": false, "zero": false}, "axis": {"title": "Kappa (MeV)", "values": [0, 0.2, 0.4, 0.6, 0.8], "labelExpr": "'' + datum.value", "zindex": 1}}, "y": {"field": "E", "type": "quantitative", "scale": {"domain": [22, 30], "nice": false, "zero": false}, "axis": {"title": "Eᴄᴇɴ (MeV)", "values": [22, 24, 26, 28, 30], "zindex": 1}}}}
]},
{"width": 546, "height": 224, "layer": [
 {"data": {"values": [{}]}, "mark": {"type": "rect", "fill": {"gradient": "linear", "x1": 0, "y1": 0, "x2": 0, "y2": 1, "stops": [{"offset": 0, "color": "#02070a"}, {"offset": 0.028, "color": "#174a65"}, {"offset": 1, "color": "#1b6186"}]}}, "encoding": {"x": {"datum": -0.42418, "type": "quantitative", "scale": {"domain": [-0.2, 1.5], "nice": false, "zero": false}, "axis": {"title": "Go' (MeV)", "values": [-0.2, 0.3, 0.8, 1.3], "labelExpr": "'' + datum.value", "zindex": 1}}, "x2": {"datum": 1.60898}, "y": {"datum": 30.75, "type": "quantitative", "scale": {"domain": [22, 30], "nice": false, "zero": false}, "axis": {"title": "Eᴄᴇɴ (MeV)", "values": [22, 24, 26, 28, 30], "minExtent": 0, "maxExtent": 0, "titlePadding": 3, "zindex": 1}}, "y2": {"datum": 17.607}}},
 {"data": {"name": "thresholds"}, "mark": {"type": "rule", "color": "#ffffff", "strokeWidth": 2.5, "strokeDash": [12, 8]}, "encoding": {"y": {"field": "E", "type": "quantitative", "scale": {"domain": [22, 30], "nice": false, "zero": false}, "axis": {"title": "Eᴄᴇɴ (MeV)", "values": [22, 24, 26, 28, 30], "minExtent": 0, "maxExtent": 0, "titlePadding": 3, "zindex": 1}}}},
 {"data": {"name": "Go"}, "transform": [{"filter": "datum.hl == 0"}], "mark": {"type": "circle", "color": "#3aa3bd", "opacity": 0.16, "size": 620}, "encoding": {"x": {"field": "x", "type": "quantitative", "scale": {"domain": [-0.2, 1.5], "nice": false, "zero": false}, "axis": {"title": "Go' (MeV)", "values": [-0.2, 0.3, 0.8, 1.3], "labelExpr": "'' + datum.value", "zindex": 1}}, "y": {"field": "E", "type": "quantitative", "scale": {"domain": [22, 30], "nice": false, "zero": false}, "axis": {"title": "Eᴄᴇɴ (MeV)", "values": [22, 24, 26, 28, 30], "minExtent": 0, "maxExtent": 0, "titlePadding": 3, "zindex": 1}}}},
 {"data": {"name": "Go"}, "transform": [{"filter": "datum.hl == 0"}], "mark": {"type": "circle", "color": "#8ddfea", "opacity": 0.55, "size": 280}, "encoding": {"x": {"field": "x", "type": "quantitative", "scale": {"domain": [-0.2, 1.5], "nice": false, "zero": false}, "axis": {"title": "Go' (MeV)", "values": [-0.2, 0.3, 0.8, 1.3], "labelExpr": "'' + datum.value", "zindex": 1}}, "y": {"field": "E", "type": "quantitative", "scale": {"domain": [22, 30], "nice": false, "zero": false}, "axis": {"title": "Eᴄᴇɴ (MeV)", "values": [22, 24, 26, 28, 30], "minExtent": 0, "maxExtent": 0, "titlePadding": 3, "zindex": 1}}}},
 {"data": {"name": "Go"}, "transform": [{"filter": "datum.hl == 0"}], "mark": {"type": "circle", "color": "#ffffff", "opacity": 1, "size": 85}, "encoding": {"x": {"field": "x", "type": "quantitative", "scale": {"domain": [-0.2, 1.5], "nice": false, "zero": false}, "axis": {"title": "Go' (MeV)", "values": [-0.2, 0.3, 0.8, 1.3], "labelExpr": "'' + datum.value", "zindex": 1}}, "y": {"field": "E", "type": "quantitative", "scale": {"domain": [22, 30], "nice": false, "zero": false}, "axis": {"title": "Eᴄᴇɴ (MeV)", "values": [22, 24, 26, 28, 30], "minExtent": 0, "maxExtent": 0, "titlePadding": 3, "zindex": 1}}}},
 {"data": {"name": "Go"}, "transform": [{"filter": "datum.hl == 1"}], "mark": {"type": "circle", "fill": "#ffffff", "opacity": 1, "size": 100, "stroke": "#2aa9bb", "strokeWidth": 2.5}, "encoding": {"x": {"field": "x", "type": "quantitative", "scale": {"domain": [-0.2, 1.5], "nice": false, "zero": false}, "axis": {"title": "Go' (MeV)", "values": [-0.2, 0.3, 0.8, 1.3], "labelExpr": "'' + datum.value", "zindex": 1}}, "y": {"field": "E", "type": "quantitative", "scale": {"domain": [22, 30], "nice": false, "zero": false}, "axis": {"title": "Eᴄᴇɴ (MeV)", "values": [22, 24, 26, 28, 30], "minExtent": 0, "maxExtent": 0, "titlePadding": 3, "zindex": 1}}}}
]}
]}
],
"config": {
 "view": {"stroke": null},
 "font": "Lato",
 "axis": {"grid": false, "domainColor": "#ffffff", "domainWidth": 2.5, "tickColor": "#ffffff", "tickWidth": 2.5, "labelColor": "#ffffff", "titleColor": "#ffffff", "labelFont": "Lato", "titleFont": "Lato", "labelFontSize": 21, "titleFontSize": 25, "titleFontWeight": 600, "labelOverlap": false, "labelFlush": false},
 "axisX": {"tickSize": 7, "labelPadding": 16, "titlePadding": 20},
 "axisY": {"tickSize": 5, "labelPadding": 16, "titlePadding": 12, "minExtent": 47, "maxExtent": 47, "labelOffset": 4}
}
}
